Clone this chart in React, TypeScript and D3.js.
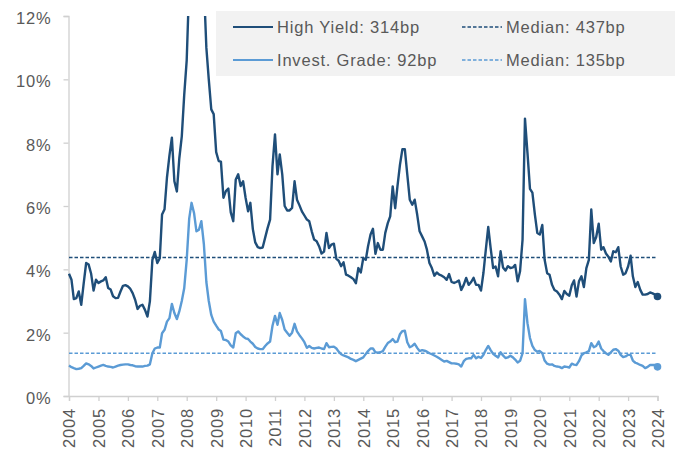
import React, { useEffect, useRef } from 'react';
import * as d3 from 'd3';

// monthly spreads (%), Jan 2004 .. Jan 2024
const highYield: number[] = [
  3.86, 3.67, 3.06, 3.09, 3.3, 2.88, 3.55, 4.2, 4.15, 3.87, 3.33, 3.67,
  3.57, 3.62, 3.65, 3.75, 3.41, 3.36, 3.15, 3.09, 3.1, 3.3, 3.48, 3.5,
  3.46, 3.38, 3.25, 3.04, 2.75, 2.85, 2.88, 2.72, 2.51, 2.99, 4.3, 4.55,
  4.2, 4.35, 5.73, 5.9, 6.9, 7.6, 8.16, 6.78, 6.46, 7.5, 8.2, 9.5,
  10.6, 13, 15, 17, 19, 20, 17, 13, 11.0, 10.0, 9.05, 8.9,
  7.7, 7.42, 7.4, 6.26, 6.47, 6.55, 5.8, 5.52, 6.84, 7.0, 6.63, 6.78,
  6.26, 5.83, 6.1, 5.27, 4.85, 4.7, 4.67, 4.69, 5.0, 5.3, 5.57, 7.26,
  8.26, 7.0, 7.63, 7.0, 6.0, 5.86, 5.86, 5.94, 6.78, 6.2, 6.02, 5.83,
  5.7, 5.57, 5.52, 5.2, 4.94, 4.89, 4.73, 4.5, 4.56, 5.15, 4.67, 4.78,
  4.81, 4.33, 4.27, 4.1, 4.22, 3.83, 3.8, 3.75, 3.69, 3.56, 4.04, 3.9,
  4.36, 4.3, 4.73, 5.1, 5.28, 4.49, 4.83, 4.62, 4.62, 5.15, 5.46, 5.67,
  6.62, 5.93, 6.62, 7.3, 7.79, 7.79, 7.0, 6.2, 6.04, 6.2, 5.73, 5.2,
  5.04, 4.88, 4.62, 4.2, 4.04, 3.8, 3.9, 3.83, 3.8, 3.75, 3.67, 3.85,
  3.6, 3.57, 3.6, 3.65, 3.35, 3.51, 3.73, 3.51, 3.6, 3.73, 3.51, 3.51,
  3.33, 3.9, 4.6, 5.34, 4.67, 4.04, 4.09, 3.78, 4.57, 4.06, 3.96, 4.1,
  4.04, 4.06, 4.14, 3.62, 3.94, 4.94, 8.76, 7.68, 6.54, 6.42, 5.73, 5.15,
  5.1, 5.4, 4.3, 3.88, 3.83, 3.51, 3.35, 3.3, 3.2, 3.06, 3.32, 3.22,
  3.17, 3.5, 3.65, 3.14, 3.62, 3.78, 3.44, 4.04, 4.3, 5.89, 4.83, 5.02,
  5.44, 4.62, 4.7, 4.5, 4.4, 4.25, 4.57, 4.54, 4.7, 4.09, 3.83, 3.88,
  4.09, 4.43, 3.78, 3.44, 3.6, 3.35, 3.2, 3.2, 3.22, 3.27, 3.24, 3.2,
  3.14,
];

const investGrade: number[] = [
  0.96, 0.91, 0.88, 0.85, 0.86, 0.88, 0.95, 1.03, 1.0, 0.95, 0.87, 0.9,
  0.93, 0.96, 0.98, 0.95, 0.93, 0.92, 0.9, 0.93, 0.96, 0.98, 0.99, 1.0,
  1.0, 0.98, 0.97, 0.94, 0.93, 0.93, 0.93, 0.95, 0.96, 1.0, 1.35, 1.5,
  1.53, 1.53, 1.98, 2.09, 2.35, 2.46, 2.91, 2.62, 2.43, 2.67, 3.0, 3.4,
  4.3, 5.6, 6.1, 5.78, 5.2, 5.25, 5.52, 4.8, 3.6, 3.0, 2.56, 2.35,
  2.22, 2.1, 2.05, 1.78, 1.77, 1.72, 1.6, 1.53, 1.98, 2.04, 1.95, 1.88,
  1.82, 1.8, 1.72, 1.65, 1.55, 1.5, 1.48, 1.48, 1.58, 1.66, 1.72, 2.22,
  2.53, 2.25, 2.62, 2.4, 2.1, 2.0, 1.9, 2.0, 2.28, 2.04, 1.92, 1.82,
  1.7, 1.52, 1.58, 1.52, 1.5, 1.52, 1.53, 1.5, 1.48, 1.67, 1.54, 1.55,
  1.56, 1.5, 1.4, 1.32, 1.28, 1.25, 1.22, 1.17, 1.14, 1.1, 1.14, 1.18,
  1.22, 1.33, 1.42, 1.5, 1.5, 1.38, 1.37, 1.38, 1.42, 1.55, 1.67, 1.72,
  1.8, 1.7, 1.72, 1.95, 2.05, 2.06, 1.7, 1.54, 1.58, 1.65, 1.52, 1.42,
  1.45, 1.43, 1.4, 1.35, 1.32, 1.28, 1.24, 1.19, 1.14, 1.09, 1.11, 1.07,
  1.03, 1.03, 1.02, 1.0, 0.93, 1.1, 1.17, 1.19, 1.19, 1.3, 1.19, 1.24,
  1.2, 1.3, 1.45, 1.58, 1.45, 1.33, 1.27, 1.22, 1.38, 1.28, 1.2, 1.22,
  1.27, 1.22, 1.15, 1.06, 1.11, 1.35, 3.06, 2.3, 1.83, 1.58, 1.45, 1.4,
  1.42, 1.35, 1.12, 1.02, 0.99, 1.0, 0.95, 0.93, 0.92, 0.88, 0.93, 0.92,
  0.9, 1.02, 0.99, 0.98, 1.1, 1.28, 1.35, 1.38, 1.42, 1.67, 1.54, 1.58,
  1.72, 1.5, 1.42, 1.35, 1.3, 1.38, 1.46, 1.48, 1.43, 1.3, 1.23, 1.25,
  1.3, 1.3, 1.12, 1.05, 1.02, 0.98, 0.95, 0.88, 0.92, 0.98, 0.98, 0.98,
  0.92,
];

const hyMedian = 4.37;
const igMedian = 1.35;
const yTicks = [0, 2, 4, 6, 8, 10, 12];
const yearTicks = d3.range(2004, 2025);

const legendItems = [
  { label: 'High Yield: 314bp', color: '#1f4e79', dashed: false },
  { label: 'Invest. Grade: 92bp', color: '#5b9bd5', dashed: false },
  { label: 'Median: 437bp', color: '#1f4e79', dashed: true },
  { label: 'Median: 135bp', color: '#5b9bd5', dashed: true },
];

const W = 683;
const H = 450;
const FONT = '"Liberation Sans", Arial, sans-serif';
const TEXT = '#595959';
const AXIS = '#d0d0d0';

const App = () => {
  const svgRef = useRef<SVGSVGElement>(null);

  useEffect(() => {
    const svg = d3.select(svgRef.current);
    svg.selectAll('*').remove();

    const dates = highYield.map((_, i) => new Date(2004, i, 1));
    const x = d3
      .scaleTime()
      .domain([new Date(2004, 0, 1), new Date(2024, 0, 1)])
      .range([69, 657.5]);
    const y = d3.scaleLinear().domain([0, 12]).range([396, 16]);

    svg
      .append('defs')
      .append('clipPath')
      .attr('id', 'plot-clip')
      .append('rect')
      .attr('x', 60)
      .attr('y', 16)
      .attr('width', 620)
      .attr('height', 390);

    // legend box
    svg
      .append('rect')
      .attr('x', 216)
      .attr('y', 11)
      .attr('width', 459)
      .attr('height', 65)
      .attr('fill', '#f2f2f2');

    // y axis
    const yAxis = svg
      .append('g')
      .attr('transform', 'translate(68.5,0)')
      .call(
        d3
          .axisLeft(y)
          .tickValues(yTicks)
          .tickSize(5)
          .tickPadding(12)
          .tickFormat((d) => `${d}%`)
      );
    yAxis.select('.domain').attr('stroke', AXIS).attr('stroke-width', 1.3);
    yAxis.selectAll('.tick line').attr('stroke', AXIS).attr('stroke-width', 1.3);
    yAxis
      .selectAll('.tick text')
      .attr('fill', TEXT)
      .attr('font-family', FONT)
      .attr('font-size', 16.5)
      .attr('letter-spacing', 0.8)
      .attr('dy', '0.45em');

    // x axis
    const xAxis = svg
      .append('g')
      .attr('transform', 'translate(0,396)')
      .call(
        d3
          .axisBottom(x)
          .tickValues(yearTicks.map((yr) => new Date(yr, 0, 1)))
          .tickSize(5)
          .tickFormat((d) => d3.timeFormat('%Y')(d as Date))
      );
    xAxis.select('.domain').attr('stroke', AXIS).attr('stroke-width', 1.3);
    xAxis.selectAll('.tick line').attr('stroke', AXIS).attr('stroke-width', 1.3);
    xAxis
      .selectAll('.tick text')
      .attr('fill', TEXT)
      .attr('font-family', FONT)
      .attr('font-size', 16.5)
      .attr('letter-spacing', 0.8)
      .attr('text-anchor', 'end')
      .attr('transform', 'rotate(-90)')
      .attr('x', -12)
      .attr('y', 0)
      .attr('dy', '0.36em');

    const plot = svg.append('g').attr('clip-path', 'url(#plot-clip)');

    // median lines
    [
      { v: hyMedian, color: '#1f4e79' },
      { v: igMedian, color: '#5b9bd5' },
    ].forEach((m) => {
      plot
        .append('line')
        .attr('x1', x(new Date(2004, 0, 1)))
        .attr('x2', x(new Date(2024, 0, 1)))
        .attr('y1', y(m.v))
        .attr('y2', y(m.v))
        .attr('stroke', m.color)
        .attr('stroke-width', 1.5)
        .attr('stroke-dasharray', '3.5 2');
    });

    const line = d3
      .line<number>()
      .x((_, i) => x(dates[i]))
      .y((d) => y(d));

    plot
      .append('path')
      .datum(investGrade)
      .attr('d', line)
      .attr('fill', 'none')
      .attr('stroke', '#5b9bd5')
      .attr('stroke-width', 2.4)
      .attr('stroke-linejoin', 'round');

    plot
      .append('path')
      .datum(highYield)
      .attr('d', line)
      .attr('fill', 'none')
      .attr('stroke', '#1f4e79')
      .attr('stroke-width', 2.4)
      .attr('stroke-linejoin', 'round');

    // end markers
    const last = highYield.length - 1;
    svg
      .append('circle')
      .attr('cx', x(dates[last]))
      .attr('cy', y(highYield[last]))
      .attr('r', 3.8)
      .attr('fill', '#1f4e79');
    svg
      .append('circle')
      .attr('cx', x(dates[last]))
      .attr('cy', y(investGrade[last]))
      .attr('r', 3.8)
      .attr('fill', '#5b9bd5');

    // legend
    const legend = svg.append('g');
    legendItems.forEach((item, i) => {
      const col = Math.floor(i / 2);
      const row = i % 2;
      const lx = col === 0 ? 233 : 462;
      const ly = row === 0 ? 27 : 60;
      legend
        .append('line')
        .attr('x1', lx)
        .attr('x2', lx + 40)
        .attr('y1', ly)
        .attr('y2', ly)
        .attr('stroke', item.color)
        .attr('stroke-width', item.dashed ? 1.3 : 2.2)
        .attr('stroke-dasharray', item.dashed ? '3.5 2' : null);
      legend
        .append('text')
        .attr('x', lx + 44)
        .attr('y', ly + 6)
        .attr('fill', TEXT)
        .attr('font-family', FONT)
        .attr('font-size', 16.5)
        .attr('letter-spacing', 0.8)
        .text(item.label);
    });
  }, []);

  return (
    <svg
      ref={svgRef}
      width={W}
      height={H}
      style={{ position: 'absolute', left: 0, top: 0, background: '#fff' }}
    />
  );
};

export default App;
